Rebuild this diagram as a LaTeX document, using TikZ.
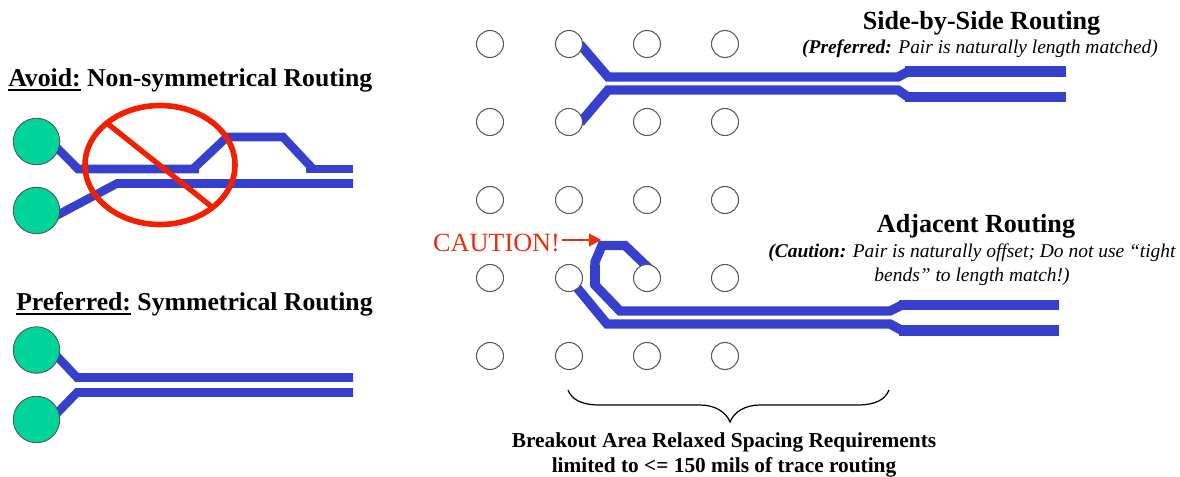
\documentclass[tikz,border=0pt]{standalone}
\usepackage{fontspec}
\usetikzlibrary{shapes.geometric,arrows.meta,backgrounds}
\setmainfont{Liberation Serif}
\definecolor{tracecol}{HTML}{3640CC}
\definecolor{padgreen}{HTML}{00D49A}
\definecolor{nored}{HTML}{F02000}
\definecolor{cautionred}{HTML}{E83010}
\newcommand\ulbold[1]{\setbox0\hbox{#1}\rlap{\rule[-3pt]{\wd0}{1.5pt}}\box0\relax}
\tikzset{
  greenpad/.style={circle,draw=black!70,line width=0.6pt,fill=padgreen,minimum size=46.5*0.75pt,inner sep=0pt},
  viapad/.style={circle,draw=black!65,line width=0.8pt,fill=white,minimum size=27*0.75pt,inner sep=0pt},
  trace/.style={draw=tracecol,line width=6.4pt,line join=miter,line cap=butt},
  fromvia/.style={trace,line width=7pt,shorten <=-3pt},
  frompad/.style={trace,shorten <=-4pt},
  widetrace/.style={draw=tracecol,line width=7.8pt,line cap=butt},
  nosign/.style={draw=nored,line width=4pt},
  heading/.style={font=\fontsize{19.6}{22}\selectfont\bfseries,anchor=center,inner sep=0pt},
  leftheading/.style={font=\fontsize{19.3}{22}\selectfont\bfseries,anchor=west,inner sep=0pt},
  subheading/.style={font=\fontsize{14.6}{18}\selectfont\itshape,align=center,inner sep=0pt},
  notetext/.style={font=\fontsize{16}{18.75}\selectfont\bfseries,align=center,inner sep=0pt}
}
\begin{document}
\begin{tikzpicture}[x=0.75pt,y=-0.75pt]
\useasboundingbox (0,0) rectangle (1180,477);
% via grid
\foreach \r/\yy in {a/44,b/122,c/200,d/278,e/356}{
  \foreach \c/\xx in {1/490,2/569,3/647,4/725}{
    \node[viapad] (v\r\c) at (\xx,\yy) {};
  }
}
% left pads
\node[greenpad] (pa) at (36.5,141.5) {};
\node[greenpad] (pb) at (36.5,210.5) {};
\node[greenpad] (pc) at (36.5,350) {};
\node[greenpad] (pd) at (36.5,419.5) {};
% bend points
\coordinate (a1) at (78,169); \coordinate (a2) at (199,169);
\coordinate (a3) at (193,169); \coordinate (a4) at (227,137);
\coordinate (a5) at (283,137); \coordinate (a6) at (313,169);
\coordinate (a7) at (306,169); \coordinate (a8) at (353,169);
\coordinate (b1) at (117,183.5); \coordinate (b2) at (353,183.5);
\coordinate (c1) at (77,377.5); \coordinate (c2) at (353,377.5);
\coordinate (d1) at (77,392.5); \coordinate (d2) at (353,392.5);
\coordinate (e1) at (608,77); \coordinate (e2) at (898,77); \coordinate (e3) at (908,71.5); \coordinate (e4) at (1066,71.5); \coordinate (e5) at (905,71.5);
\coordinate (f1) at (608,90); \coordinate (f2) at (898,90); \coordinate (f3) at (908,97); \coordinate (f4) at (1066,97); \coordinate (f5) at (905,97);
\coordinate (g1) at (625,245.5); \coordinate (g2) at (602,245.5); \coordinate (g3) at (595,262);
\coordinate (g4) at (595,285); \coordinate (g5) at (620,311); \coordinate (g6) at (890,311);
\coordinate (g7) at (902,305); \coordinate (g8) at (1059,305); \coordinate (g9) at (899,305);
\coordinate (g10) at (595,265); \coordinate (g11) at (595,286);
\coordinate (h1) at (607,324); \coordinate (h2) at (890,324); \coordinate (h3) at (902,330.5); \coordinate (h4) at (1059,330.5); \coordinate (h5) at (899,330.5);
\begin{scope}[on background layer]
% non-symmetrical
\draw[frompad] (pa.-20) -- (a1) -- (a2);
\draw[trace] (a3) -- (a4) -- (a5) -- (a6);
\draw[trace] (a7) -- (a8);
\draw[frompad] (pb.-8) -- (b1) -- (b2);
% symmetrical
\draw[frompad] (pc.-20) -- (c1) -- (c2);
\draw[frompad] (pd.20) -- (d1) -- (d2);
% side-by-side
\draw[fromvia] (va2.-14) -- (e1) -- (e2) -- (e3);
\draw[widetrace] (e5) -- (e4);
\draw[fromvia] (vb2.10) -- (f1) -- (f2) -- (f3);
\draw[widetrace] (f5) -- (f4);
% adjacent
\draw[fromvia,shorten <=-5pt] (vd3.100) -- (g1) -- (g2) -- (g3) -- (g4) -- (g5) -- (g6) -- (g7);
\draw[widetrace] (g10) -- (g11);
\draw[widetrace] (g9) -- (g8);
\draw[fromvia] (vd2) -- (h1) -- (h2) -- (h3);
\draw[widetrace] (h5) -- (h4);
\end{scope}
% no sign
\node[draw=nored,line width=4.2pt,ellipse,minimum width=150*0.75pt,minimum height=119*0.75pt,inner sep=0pt] (nos) at (160,165) {};
\coordinate (s1) at (108,124); \coordinate (s2) at (212,207);
\draw[nosign] (s1) -- (s2);
% caution
\node[font=\fontsize{19.7}{22}\selectfont,text=cautionred,inner sep=0pt] (cau) at (496.5,243) {CAUTION!};
\coordinate (arr0) at (561.5,240); \coordinate (arr) at (601.5,240);
\draw[draw=cautionred,fill=cautionred,line width=1.6pt,-{Triangle[length=9.5pt,width=9.5pt]}] (arr0) -- (arr);
% brace
\coordinate (br1) at (568,390); \coordinate (br2) at (889,390); \coordinate (brt) at (730,422);
\draw[black,line width=0.9pt] (br1) .. controls (572,400) and (582,405) .. (600,405) -- (700,405)
  .. controls (715,405) and (726,412) .. (brt) .. controls (734,412) and (745,405) .. (760,405) -- (857,405)
  .. controls (875,405) and (885,400) .. (br2);
% labels
\node[leftheading] (t1) at (8,80.5) {\ulbold{Avoid:} Non-symmetrical Routing};
\node[leftheading] (t2) at (16,304.5) {\ulbold{Preferred:} Symmetrical Routing};
\node[heading] (t3) at (981.5,23.5) {Side-by-Side Routing};
\node[subheading] (t4) at (980,49) {{\bfseries (Preferred:} Pair is naturally length matched)};
\node[heading] (t5) at (976,226) {Adjacent Routing};
\node[subheading] (t6) at (972,264.5) {{\bfseries (Caution:} Pair is naturally offset; Do not use “tight\\bends” to length match!)};
\node[notetext] (t7) at (724,454.5) {Breakout Area Relaxed Spacing Requirements\\limited to <= 150 mils of trace routing};
\end{tikzpicture}
\end{document}
